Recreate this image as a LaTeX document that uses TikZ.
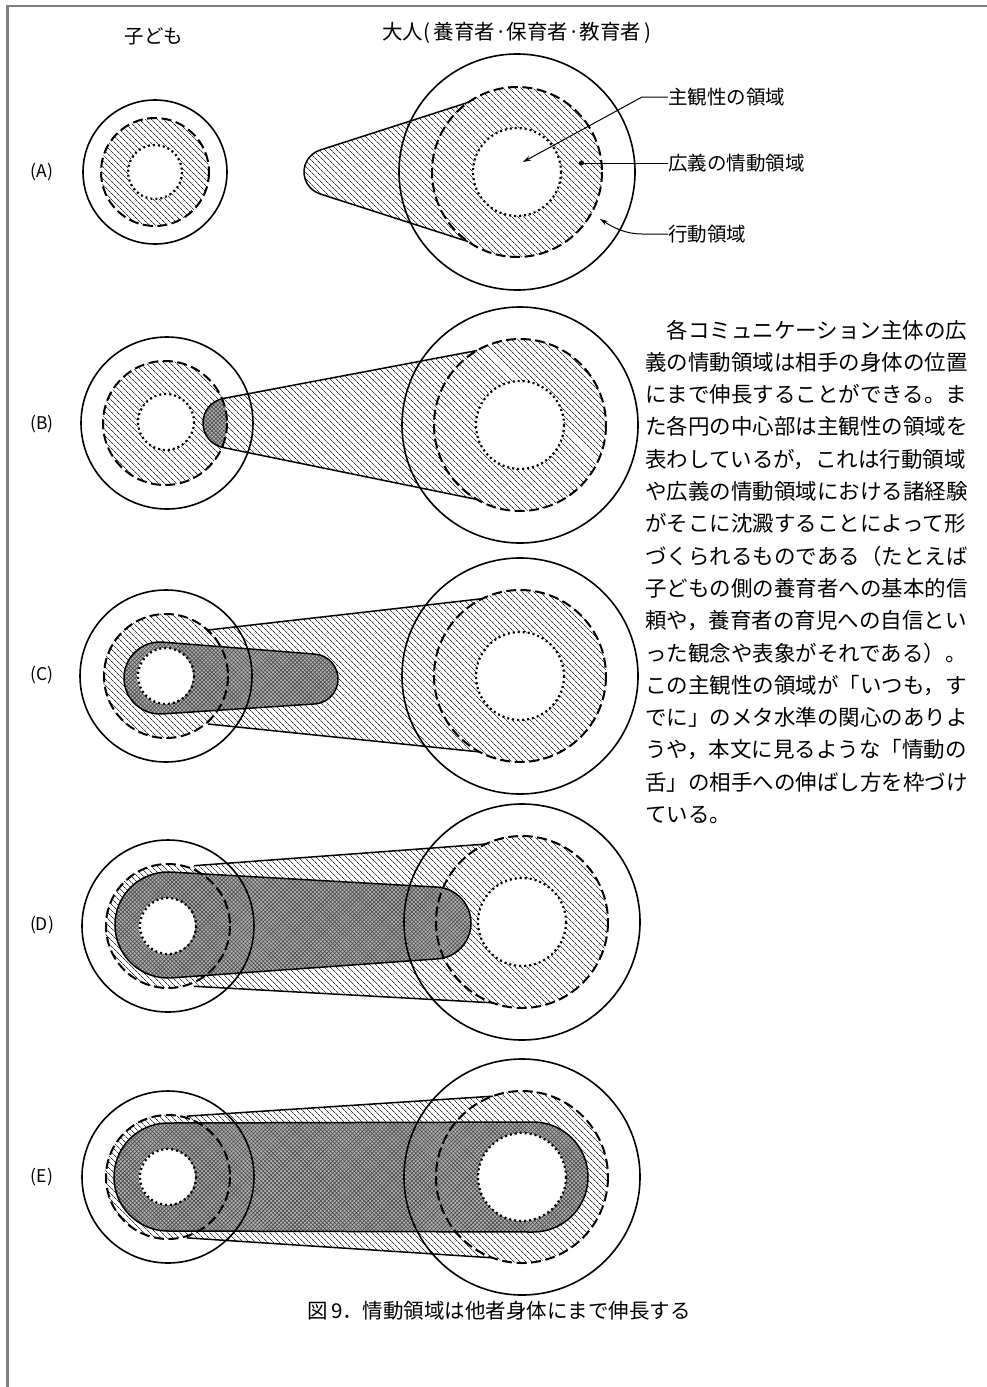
\documentclass[tikz,border=0pt]{standalone}
\usepackage{fontspec}
\setmainfont{Noto Sans CJK JP}
\usetikzlibrary{calc,patterns.meta,arrows.meta}

% tongue from two points on a circle (centre #1,#2, radius #3, angles #4,#5) to a round tip (#6,#7, radius #8)
\newcommand\TipCalc[8]{%
 \pgfmathsetmacro\tgPax{#1+#3*cos(#4)}%
 \pgfmathsetmacro\tgPay{#2+#3*sin(#4)}%
 \pgfmathsetmacro\tgPbx{#1+#3*cos(#5)}%
 \pgfmathsetmacro\tgPby{#2+#3*sin(#5)}%
 \pgfmathsetmacro\tgda{veclen(\tgPax-#6,\tgPay-#7)}%
 \pgfmathsetmacro\tgdb{veclen(\tgPbx-#6,\tgPby-#7)}%
 \pgfmathsetmacro\tgqa{atan2(\tgPay-#7,\tgPax-#6)-acos(#8/\tgda)}%
 \pgfmathsetmacro\tgqb{atan2(\tgPby-#7,\tgPbx-#6)+acos(#8/\tgdb)-360}%
 \pgfmathsetmacro\tgqap{\tgqa+360}%
 \pgfmathsetmacro\tgqbp{\tgqb+360}%
 \pgfmathsetmacro\tgQax{#6+#8*cos(\tgqa)}%
 \pgfmathsetmacro\tgQay{#7+#8*sin(\tgqa)}%
 \pgfmathsetmacro\tgQbx{#6+#8*cos(\tgqb)}%
 \pgfmathsetmacro\tgQby{#7+#8*sin(\tgqb)}%
}
\newcommand\TipFill[9]{\TipCalc{#2}{#3}{#4}{#5}{#6}{#7}{#8}{#9}%
 \path[#1] (\tgPax,\tgPay) -- (\tgQax,\tgQay) arc[start angle=\tgqa, end angle=\tgqb, radius=#9] -- (\tgPbx,\tgPby) -- (#2,#3) -- cycle;}
\newcommand\TipLine[9]{\TipCalc{#2}{#3}{#4}{#5}{#6}{#7}{#8}{#9}%
 \path[#1] (\tgPax,\tgPay) -- (\tgQax,\tgQay) arc[start angle=\tgqa, end angle=\tgqb, radius=#9] -- (\tgPbx,\tgPby);}
% convex hull of two circles
\newcommand\HullPath[7]{%
 \pgfmathsetmacro\tghd{veclen(#5-#2,#6-#3)}%
 \pgfmathsetmacro\tghp{atan2(#6-#3,#5-#2)}%
 \pgfmathsetmacro\tgha{acos((#4-#7)/\tghd)}%
 \pgfmathsetmacro\tghu{\tghp-\tgha}%
 \pgfmathsetmacro\tghl{\tghp+\tgha}%
 \pgfmathsetmacro\tghw{\tghp-\tgha+360}%
 \path[#1] ($(#2,#3)+(\tghu:#4)$) -- ($(#5,#6)+(\tghu:#7)$) arc[start angle=\tghu, end angle=\tghl, radius=#7] -- ($(#2,#3)+(\tghl:#4)$) arc[start angle=\tghl, end angle=\tghw, radius=#4] -- cycle;}
\newcommand\PersonLines[5]{%
 \path[ocirc] (#1,#2) circle (#3);
 \path[dcirc] (#1,#2) circle (#4);
 \path[pcirc] (#1,#2) circle (#5);}

\tikzset{
 hatchfill/.style={pattern={Lines[angle=-45,distance=4pt,line width=0.8pt]},pattern color=black!78},
 darkfill/.style={preaction={fill=black!30},pattern={Hatch[angle=45,distance=2.8pt,line width=0.6pt]},pattern color=black!72},
 holefill/.style={fill=white},
 ocirc/.style={draw,line width=1.6pt},
 dcirc/.style={draw,line width=2pt,dash pattern=on 10pt off 4.5pt},
 pcirc/.style={draw,line width=2.2pt,dash pattern=on 2pt off 3pt},
 tline/.style={draw,line width=1.5pt,line join=round},
 lead/.style={draw,line width=1pt},
 lbl/.style={font=\fontsize{19.5}{19.5}\selectfont,inner sep=0pt},
 rowlbl/.style={font=\fontsize{17.5}{17.5}\selectfont,inner sep=0pt},
 body/.style={font=\fontsize{21.5}{21.5}\selectfont,inner sep=0pt,anchor=base west},
}

\begin{document}
\begin{tikzpicture}[x=1pt,y=-1pt]
\useasboundingbox (0,0) rectangle (987,1387);
\fill[white] (0,0) rectangle (987,1387);
\draw[line width=2.5pt,color=black!50] (7.5,1387) -- (7.5,6) -- (987,6);

% headers
\node[lbl] (hchild) at (154,36) {子ども};
\node[lbl,font=\fontsize{20.5}{20.5}\selectfont] (hadult) at (517,33) {大人(\,養育者·保育者·教育者\,)};

% row labels
\foreach \L/\yy in {A/172,B/424,C/675,D/925,E/1177}
  \node[rowlbl] (row\L) at (42,\yy) {(\L)};

% ---------------- (A)
\TipCalc{517}{172}{85}{235}{125}{327}{172}{23}
\path[hatchfill] (517,172) -- (\tgPbx,\tgPby) -- (\tgQbx,\tgQby) arc[start angle=\tgqbp, end angle=\tgqap, radius=23] -- (\tgPax,\tgPay) -- cycle
  (155,172) circle (54) (517,172) circle (85);
\path[holefill] (155,172) circle (27);
\path[holefill] (517,172) circle (44);
\PersonLines{155}{172}{72}{54}{27}
\PersonLines{517}{172}{118}{85}{44}
\TipLine{tline}{517}{172}{85}{235}{125}{327}{172}{23}

\node[lbl,anchor=west] (L1) at (668,97) {主観性の領域};
\node[lbl,anchor=west] (L2) at (668,163) {広義の情動領域};
\node[lbl,anchor=west] (L3) at (668,234) {行動領域};
\coordinate (Asubj) at (523,162);
\coordinate (Aemo) at (579,163);
\coordinate (Aact) at (600,219);
\draw[lead,-{Stealth[length=8pt,width=5pt]}] (L1.west) -- ++(-26,0) -- (Asubj);
\draw[lead,-{Circle[length=5pt]}] (L2.west) -- (Aemo);
\draw[lead,-{Stealth[length=8pt,width=5pt]}] (L3.west) -- (642,234) .. controls (626,234) and (614,228) .. (Aact);

% ---------------- (B)
\TipCalc{520}{425}{86}{240}{120}{228}{423}{25}
\path[hatchfill] (520,425) -- (\tgPbx,\tgPby) -- (\tgQbx,\tgQby) arc[start angle=\tgqbp, end angle=\tgqap, radius=25] -- (\tgPax,\tgPay) -- cycle
  (165,423) circle (62) (520,425) circle (86);
\begin{scope}
 \clip (165,423) circle (62);
 \TipFill{darkfill}{520}{425}{86}{240}{120}{228}{423}{25}
\end{scope}
\path[holefill] (166,422) circle (28);
\path[holefill] (520,425) circle (44);
\path[ocirc] (167,423) circle (86);
\path[dcirc] (165,423) circle (62);
\path[pcirc] (166,422) circle (28);
\PersonLines{520}{425}{118}{86}{44}
\TipLine{tline}{520}{425}{86}{240}{120}{228}{423}{25}

% ---------------- (C)
\coordinate (Cc) at (165,676);
\coordinate (Ca) at (520,676);
\coordinate (Ct1) at (208,630);
\coordinate (Cb1) at (208,724);
\coordinate (Ct2) at ($(Ca)+(244:86)$);
\coordinate (Cb2) at ($(Ca)+(118:86)$);
\path[hatchfill] (Ct1) -- (Ct2) -- (Ca) -- (Cb2) -- (Cb1) -- (Cc) -- cycle
  (Cc) circle (62) (Ca) circle (86);
\HullPath{darkfill}{160}{678}{36}{313}{679}{25}
\path[holefill] (Cc) circle (28);
\path[holefill] (Ca) circle (44);
\PersonLines{166}{676}{86}{62}{28}
\PersonLines{520}{676}{118}{86}{44}
\path[tline] (Ct1) -- (Ct2) (Cb1) -- (Cb2);
\HullPath{tline}{160}{678}{36}{313}{679}{25}

% ---------------- (D)
\coordinate (Dc) at (167,926);
\coordinate (Da) at (522,922);
\coordinate (Dt1) at ($(Dc)+(-66:66)$);
\coordinate (Db1) at ($(Dc)+(66:66)$);
\coordinate (Dt2) at ($(Da)+(245:86)$);
\coordinate (Db2) at ($(Da)+(110:86)$);
\path[hatchfill] (Dt1) -- (Dt2) -- (Da) -- (Db2) -- (Db1) -- (Dc) -- cycle
  (Dc) circle (62) (Da) circle (86);
\HullPath{darkfill}{168}{925}{53}{435}{923}{36}
\path[holefill] (Dc) circle (28);
\path[holefill] (Da) circle (44);
\PersonLines{168}{926}{86}{62}{28}
\PersonLines{522}{922}{118}{86}{44}
\path[tline] (Dt1) -- (Dt2) (Db1) -- (Db2);
\HullPath{tline}{168}{925}{53}{435}{923}{36}

% ---------------- (E)
\coordinate (Ec) at (167,1177);
\coordinate (Ea) at (522,1177);
\coordinate (Et1) at ($(Ec)+(-72:64)$);
\coordinate (Eb1) at ($(Ec)+(72:64)$);
\coordinate (Et2) at ($(Ea)+(250:86)$);
\coordinate (Eb2) at ($(Ea)+(110:86)$);
\path[hatchfill] (Et1) -- (Et2) -- (Ea) -- (Eb2) -- (Eb1) -- (Ec) -- cycle
  (Ec) circle (62) (Ea) circle (86);
\HullPath{darkfill}{168}{1177}{54}{533}{1177}{55}
\path[holefill] (Ec) circle (28);
\path[holefill] (Ea) circle (44);
\PersonLines{168}{1177}{86}{62}{28}
\PersonLines{522}{1177}{118}{86}{44}
\path[tline] (Et1) -- (Et2) (Eb1) -- (Eb2);
\HullPath{tline}{168}{1177}{54}{533}{1177}{55}

% ---------------- body text
\foreach \s [count=\i] in {%
 \hspace*{1em}各コミュニケーション主体の広,
 義の情動領域は相手の身体の位置,
 にまで伸長することができる。ま,
 た各円の中心部は主観性の領域を,
 表わしているが，これは行動領域,
 や広義の情動領域における諸経験,
 がそこに沈澱することによって形,
 づくられるものである（たとえば,
 子どもの側の養育者への基本的信,
 頼や，養育者の育児への自信とい,
 った観念や表象がそれである）。,
 この主観性の領域が「いつも，す,
 でに」のメタ水準の関心のありよ,
 うや，本文に見るような「情動の,
 舌」の相手への伸ばし方を枠づけ,
 ている。}
 \node[body] (t\i) at (645,{338+32.3*(\i-1)}) {\s};

% caption
\node[font=\fontsize{20.5}{20.5}\selectfont,inner sep=0pt] (cap) at (499,1311) {図\,9．情動領域は他者身体にまで伸長する};
\end{tikzpicture}
\end{document}
